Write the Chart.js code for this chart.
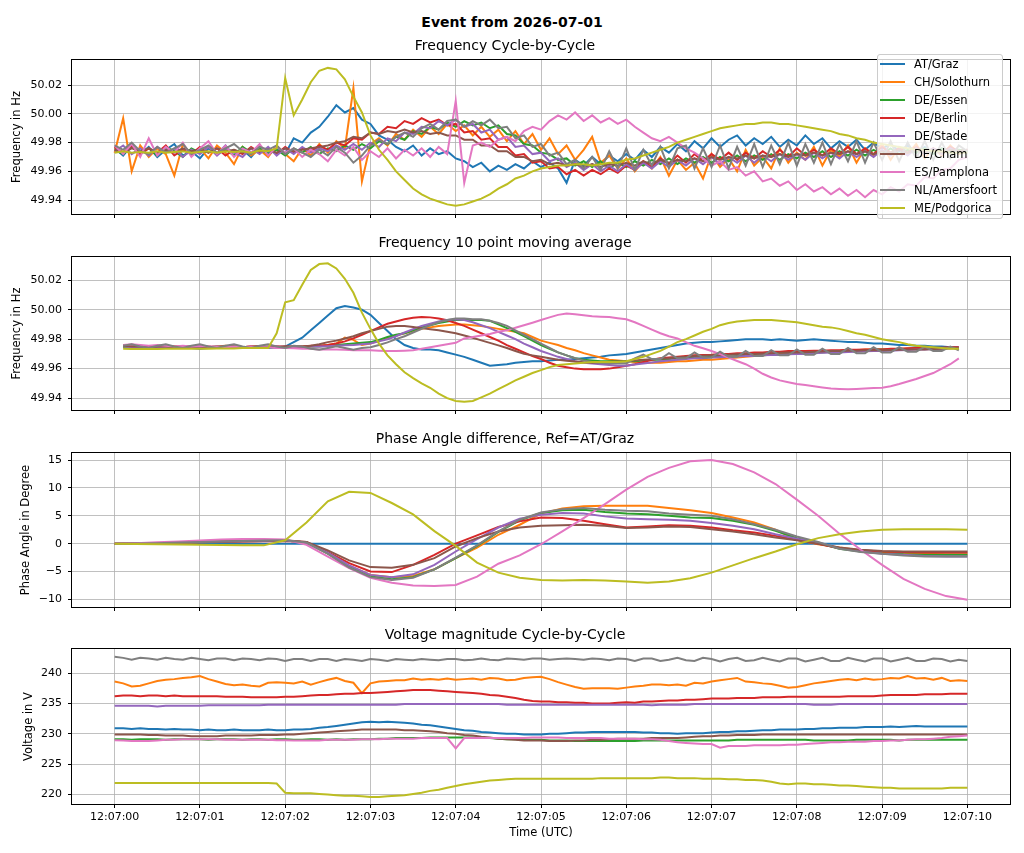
<!DOCTYPE html>
<html>
<head>
<meta charset="utf-8">
<title>Event from 2026-07-01</title>
<script src="https://cdn.jsdelivr.net/npm/chart.js@4.4.1/dist/chart.umd.min.js"></script>
<style>
body{margin:0;background:#fff;width:1024px;height:853px;position:relative;overflow:hidden;font-family:"DejaVu Sans",sans-serif;color:#000;}
canvas{position:absolute;left:0;}
#suptitle{position:absolute;left:0;top:13px;width:1024px;text-align:center;font-weight:bold;font-size:14px;line-height:18px;}
#legend{position:absolute;left:877px;top:54px;width:126px;height:165px;box-sizing:border-box;background:rgba(255,255,255,0.8);border:1px solid #ccc;border-radius:3px;z-index:5;}
.item{height:18px;display:flex;align-items:center;font-size:11.5px;white-space:nowrap;}
.swatch{width:25px;height:0;border-top:2px solid;margin:0 9px 0 2px;}
</style>
</head>
<body>
<div id="suptitle">Event from 2026-07-01</div>
<canvas id="freqCycle" width="1024" height="182" style="top:38px"></canvas>
<canvas id="freqAvg" width="1024" height="181" style="top:235px"></canvas>
<canvas id="phase" width="1024" height="182" style="top:431px"></canvas>
<canvas id="voltage" width="1024" height="226" style="top:627px"></canvas>
<div id="legend"></div>
<script>
const stations = ['AT/Graz','CH/Solothurn','DE/Essen','DE/Berlin','DE/Stade','DE/Cham','ES/Pamplona','NL/Amersfoort','ME/Podgorica'];
const colors = ['#1f77b4','#ff7f0e','#2ca02c','#d62728','#9467bd','#8c564b','#e377c2','#7f7f7f','#bcbd22'];

const timeTicks = [0,1,2,3,4,5,6,7,8,9,10];
const timeLabels = ['12:07:00','12:07:01','12:07:02','12:07:03','12:07:04','12:07:05','12:07:06','12:07:07','12:07:08','12:07:09','12:07:10'];
const freqTicks = [49.94,49.96,49.98,50.00,50.02];
const phaseTicks = [-10,-5,0,5,10,15];
const voltTicks = [220,225,230,235,240];

// seconds after 12:07:00
const cycleTimes = [0,0.1,0.2,0.3,0.4,0.5,0.6,0.7,0.8,0.9,1,1.1,1.2,1.3,1.4,1.5,1.6,1.7,1.8,1.9,2,2.1,2.2,2.3,2.4,2.5,2.6,2.7,2.8,2.9,3,3.1,3.2,3.3,3.4,3.5,3.6,3.7,3.8,3.9,4,4.1,4.2,4.3,4.4,4.5,4.6,4.7,4.8,4.9,5,5.1,5.2,5.3,5.4,5.5,5.6,5.7,5.8,5.9,6,6.1,6.2,6.3,6.4,6.5,6.6,6.7,6.8,6.9,7,7.1,7.2,7.3,7.4,7.5,7.6,7.7,7.8,7.9,8,8.1,8.2,8.3,8.4,8.5,8.6,8.7,8.8,8.9,9,9.1,9.2,9.3,9.4,9.5,9.6,9.7,9.8,9.9,10];
const avgTimes = [0.1,0.2,0.3,0.4,0.5,0.6,0.7,0.8,0.9,1,1.1,1.2,1.3,1.4,1.5,1.6,1.7,1.8,1.9,2,2.1,2.2,2.3,2.4,2.5,2.6,2.7,2.8,2.9,3,3.1,3.2,3.3,3.4,3.5,3.6,3.7,3.8,3.9,4,4.1,4.2,4.3,4.4,4.5,4.6,4.7,4.8,4.9,5,5.1,5.2,5.3,5.4,5.5,5.6,5.7,5.8,5.9,6,6.1,6.2,6.3,6.4,6.5,6.6,6.7,6.8,6.9,7,7.1,7.2,7.3,7.4,7.5,7.6,7.7,7.8,7.9,8,8.1,8.2,8.3,8.4,8.5,8.6,8.7,8.8,8.9,9,9.1,9.2,9.3,9.4,9.5,9.6,9.7,9.8,9.9];
const phaseTimes = [0,0.25,0.5,0.75,1,1.25,1.5,1.75,2,2.25,2.5,2.75,3,3.25,3.5,3.75,4,4.25,4.5,4.75,5,5.25,5.5,5.75,6,6.25,6.5,6.75,7,7.25,7.5,7.75,8,8.25,8.5,8.75,9,9.25,9.5,9.75,10];

// Frequency cycle-by-cycle (Hz)
const freqCycGraz = [49.976,49.971,49.978,49.972,49.977,49.970,49.975,49.979,49.971,49.974,
 49.969,49.976,49.972,49.978,49.971,49.975,49.970,49.977,49.973,49.976,
 49.972,49.983,49.980,49.987,49.991,49.998,50.006,50.001,50.004,49.996,
 49.993,49.985,49.982,49.977,49.974,49.978,49.971,49.976,49.972,49.974,
 49.969,49.967,49.963,49.966,49.960,49.964,49.961,49.965,49.962,49.967,
 49.963,49.966,49.962,49.952,49.968,49.964,49.970,49.965,49.971,49.967,
 49.972,49.968,49.975,49.970,49.977,49.973,49.979,49.974,49.981,49.976,
 49.983,49.977,49.982,49.985,49.978,49.983,49.979,49.984,49.977,49.982,
 49.978,49.985,49.979,49.983,49.976,49.981,49.977,49.982,49.975,49.980,
 49.976,49.979,49.974,49.978,49.973,49.977,49.972,49.976,49.973,49.975,49.974];
const freqCycSolothurn = [49.973,49.997,49.960,49.978,49.970,49.976,49.972,49.957,49.979,49.971,
 49.976,49.969,49.978,49.973,49.965,49.977,49.971,49.975,49.970,49.978,
 49.972,49.967,49.976,49.971,49.979,49.973,49.981,49.976,50.018,49.953,
 49.979,49.983,49.978,49.986,49.982,49.989,49.984,49.991,49.986,49.993,
 49.988,49.992,49.985,49.991,49.984,49.989,49.981,49.988,49.979,49.986,
 49.975,49.983,49.972,49.978,49.968,49.975,49.984,49.966,49.971,49.962,
 49.969,49.960,49.967,49.962,49.970,49.957,49.968,49.961,49.966,49.955,
 49.972,49.963,49.969,49.960,49.975,49.964,49.970,49.962,49.976,49.966,
 49.973,49.968,49.977,49.964,49.975,49.970,49.978,49.966,49.976,49.971,
 49.979,49.968,49.977,49.972,49.979,49.969,49.976,49.971,49.978,49.972,49.975];
const freqCycEssen = [49.975,49.972,49.977,49.973,49.976,49.971,49.977,49.974,49.970,49.976,
 49.973,49.977,49.972,49.975,49.971,49.977,49.973,49.976,49.972,49.975,
 49.971,49.976,49.973,49.977,49.972,49.976,49.974,49.978,49.975,49.979,
 49.976,49.981,49.979,49.984,49.982,49.988,49.986,49.991,49.989,49.994,
 49.991,49.995,49.992,49.994,49.990,49.992,49.986,49.985,49.979,49.978,
 49.973,49.972,49.968,49.969,49.964,49.967,49.963,49.967,49.962,49.966,
 49.963,49.967,49.964,49.968,49.965,49.969,49.965,49.969,49.966,49.970,
 49.966,49.970,49.967,49.971,49.967,49.971,49.968,49.972,49.968,49.972,
 49.969,49.973,49.970,49.974,49.970,49.974,49.971,49.975,49.971,49.975,
 49.972,49.976,49.972,49.975,49.973,49.976,49.972,49.976,49.973,49.975,49.974];
const freqCycBerlin = [49.977,49.973,49.978,49.972,49.976,49.973,49.978,49.971,49.975,49.972,
 49.977,49.973,49.976,49.971,49.975,49.972,49.977,49.973,49.976,49.972,
 49.977,49.973,49.976,49.974,49.978,49.975,49.980,49.978,49.983,49.982,
 49.987,49.986,49.991,49.990,49.995,49.993,49.997,49.994,49.996,49.992,
 49.993,49.987,49.988,49.982,49.983,49.977,49.977,49.971,49.972,49.966,
 49.967,49.962,49.963,49.958,49.961,49.957,49.961,49.958,49.962,49.959,
 49.964,49.961,49.967,49.963,49.969,49.965,49.971,49.966,49.972,49.967,
 49.972,49.968,49.973,49.968,49.973,49.969,49.974,49.970,49.975,49.970,
 49.976,49.971,49.975,49.971,49.976,49.972,49.977,49.972,49.976,49.972,
 49.977,49.973,49.976,49.973,49.977,49.973,49.976,49.973,49.977,49.974,49.975];
const freqCycStade = [49.974,49.978,49.972,49.976,49.971,49.977,49.973,49.976,49.970,49.975,
 49.972,49.977,49.971,49.976,49.973,49.970,49.976,49.972,49.977,49.971,
 49.976,49.972,49.977,49.973,49.976,49.974,49.978,49.975,49.979,49.975,
 49.980,49.977,49.983,49.981,49.987,49.986,49.991,49.990,49.995,49.992,
 49.996,49.991,49.993,49.987,49.989,49.982,49.984,49.977,49.978,49.972,
 49.973,49.967,49.969,49.963,49.966,49.961,49.965,49.960,49.964,49.960,
 49.965,49.961,49.966,49.962,49.967,49.963,49.968,49.964,49.969,49.965,
 49.970,49.965,49.970,49.966,49.971,49.966,49.971,49.967,49.972,49.968,
 49.972,49.968,49.973,49.969,49.973,49.969,49.974,49.970,49.974,49.970,
 49.975,49.971,49.975,49.971,49.976,49.972,49.976,49.972,49.976,49.973,49.975];
const freqCycCham = [49.975,49.973,49.976,49.974,49.976,49.973,49.975,49.973,49.976,49.974,
 49.975,49.973,49.976,49.974,49.975,49.973,49.976,49.974,49.975,49.973,
 49.976,49.974,49.975,49.976,49.977,49.978,49.980,49.981,49.984,49.983,
 49.987,49.986,49.988,49.987,49.989,49.987,49.988,49.986,49.987,49.985,
 49.985,49.982,49.982,49.978,49.978,49.974,49.974,49.970,49.970,49.967,
 49.968,49.965,49.966,49.964,49.965,49.963,49.965,49.963,49.965,49.964,
 49.966,49.964,49.967,49.965,49.968,49.966,49.968,49.967,49.969,49.967,
 49.970,49.968,49.970,49.969,49.971,49.969,49.971,49.970,49.972,49.970,
 49.972,49.971,49.973,49.971,49.973,49.972,49.974,49.972,49.974,49.972,
 49.974,49.973,49.975,49.973,49.975,49.973,49.975,49.973,49.975,49.974,49.975];
const freqCycPamplona = [49.978,49.972,49.979,49.970,49.983,49.971,49.977,49.973,49.980,49.970,
 49.976,49.981,49.972,49.978,49.970,49.976,49.973,49.979,49.971,49.977,
 49.973,49.976,49.970,49.975,49.972,49.967,49.975,49.971,49.977,49.968,
 49.974,49.970,49.976,49.969,49.975,49.971,49.976,49.970,49.977,49.972,
 50.009,49.952,49.978,49.980,49.977,49.982,49.984,49.981,49.988,49.991,
 49.989,49.995,49.999,49.996,50.001,49.995,49.999,49.994,49.997,49.993,
 49.996,49.991,49.987,49.983,49.981,49.984,49.980,49.976,49.973,49.969,
 49.964,49.967,49.961,49.963,49.957,49.960,49.953,49.955,49.950,49.953,
 49.947,49.951,49.946,49.949,49.944,49.948,49.943,49.947,49.942,49.947,
 49.944,49.949,49.946,49.951,49.950,49.956,49.955,49.961,49.962,49.968,49.970];
const freqCycAmersfoort = [49.978,49.975,49.980,49.974,49.972,49.977,49.973,49.976,49.979,49.972,
 49.975,49.978,49.973,49.976,49.979,49.974,49.972,49.977,49.975,49.978,
 49.972,49.976,49.973,49.970,49.975,49.971,49.977,49.973,49.966,49.971,
 49.978,49.982,49.979,49.984,49.987,49.984,49.990,49.993,49.989,49.995,
 49.996,49.991,49.995,49.992,49.996,49.990,49.991,49.983,49.985,49.977,
 49.979,49.971,49.973,49.965,49.968,49.962,49.970,49.961,49.974,49.962,
 49.976,49.961,49.975,49.964,49.977,49.962,49.976,49.978,49.962,49.976,
 49.963,49.978,49.962,49.977,49.964,49.979,49.963,49.978,49.965,49.980,
 49.964,49.979,49.966,49.980,49.965,49.979,49.967,49.981,49.966,49.980,
 49.968,49.981,49.967,49.980,49.969,49.981,49.968,49.980,49.969,49.978,49.974];
const freqCycPodgorica = [49.973,49.974,49.973,49.9735,49.973,49.974,49.973,49.9735,49.974,49.973,
 49.9735,49.974,49.973,49.974,49.9735,49.974,49.973,49.9745,49.974,49.976,
 50.025,49.999,50.010,50.022,50.030,50.032,50.031,50.024,50.012,50.001,
 49.985,49.975,49.968,49.960,49.954,49.948,49.944,49.941,49.939,49.937,
 49.936,49.937,49.939,49.941,49.944,49.948,49.951,49.955,49.957,49.960,
 49.962,49.963,49.964,49.964,49.965,49.965,49.964,49.965,49.966,49.966,
 49.968,49.969,49.971,49.973,49.975,49.977,49.980,49.982,49.984,49.986,
 49.988,49.990,49.991,49.992,49.993,49.993,49.994,49.994,49.993,49.993,
 49.992,49.991,49.990,49.989,49.988,49.986,49.985,49.983,49.982,49.980,
 49.979,49.978,49.977,49.976,49.975,49.975,49.974,49.974,49.973,49.973,49.973];

// Frequency 10 point moving average (Hz)
const avgGraz = [49.975,49.975,49.975,49.9745,49.974,49.974,49.9745,49.9745,49.974,
 49.9735,49.974,49.9745,49.9745,49.974,49.9745,49.9745,49.974,49.974,49.9745,
 49.975,49.978,49.981,49.986,49.991,49.996,50.001,50.0025,50.0015,50.000,
 49.9965,49.991,49.9855,49.980,49.976,49.974,49.973,49.973,49.9725,49.971,
 49.9695,49.968,49.966,49.964,49.962,49.9625,49.963,49.964,49.9645,49.965,
 49.965,49.9655,49.966,49.966,49.9665,49.967,49.9675,49.968,49.969,49.9695,
 49.970,49.971,49.972,49.973,49.974,49.975,49.976,49.977,49.9775,49.978,
 49.978,49.9785,49.979,49.9795,49.980,49.980,49.980,49.9795,49.980,49.9795,
 49.979,49.9795,49.980,49.9795,49.979,49.9785,49.978,49.978,49.9775,49.977,
 49.977,49.9765,49.976,49.976,49.9755,49.9755,49.975,49.975,49.9745,49.9745];
const avgSolothurn = [49.975,49.9755,49.975,49.9745,49.975,49.9755,49.975,49.9745,49.975,
 49.975,49.9745,49.975,49.9755,49.975,49.9745,49.975,49.975,49.9745,49.975,
 49.9745,49.9745,49.975,49.975,49.9755,49.976,49.977,49.981,49.9795,49.976,
 49.977,49.979,49.981,49.9825,49.984,49.9855,49.987,49.988,49.989,49.9895,
 49.990,49.990,49.9895,49.989,49.988,49.987,49.986,49.985,49.984,49.9815,
 49.979,49.9775,49.976,49.974,49.9725,49.9705,49.969,49.9675,49.966,49.9655,
 49.965,49.9645,49.964,49.964,49.964,49.9645,49.965,49.965,49.9655,49.966,
 49.966,49.9665,49.967,49.9675,49.968,49.9685,49.969,49.9695,49.970,49.9705,
 49.971,49.971,49.9715,49.9715,49.972,49.972,49.9725,49.9725,49.973,49.973,
 49.973,49.973,49.9735,49.9735,49.974,49.974,49.974,49.974,49.974,49.974];
const avgEssen = [49.9745,49.975,49.9745,49.9745,49.975,49.9745,49.974,49.9745,49.975,
 49.9745,49.9745,49.975,49.9745,49.974,49.9745,49.9745,49.975,49.9745,49.9745,
 49.9745,49.9745,49.9745,49.975,49.975,49.9755,49.976,49.9765,49.977,49.9775,
 49.978,49.9795,49.9815,49.983,49.984,49.986,49.988,49.9895,49.991,49.992,
 49.993,49.993,49.993,49.993,49.9925,49.990,49.9875,49.985,49.982,49.979,
 49.976,49.9735,49.971,49.969,49.967,49.966,49.9655,49.965,49.965,49.965,
 49.965,49.965,49.9655,49.966,49.966,49.9665,49.967,49.967,49.9675,49.9675,
 49.968,49.968,49.968,49.9685,49.9685,49.969,49.969,49.9695,49.9695,49.970,
 49.970,49.9705,49.971,49.971,49.9715,49.972,49.972,49.9725,49.9725,49.973,
 49.973,49.973,49.973,49.9735,49.9735,49.9735,49.974,49.974,49.974,49.974];
const avgBerlin = [49.976,49.9755,49.9755,49.975,49.975,49.9755,49.975,49.975,49.9745,
 49.975,49.975,49.9745,49.975,49.975,49.9745,49.975,49.975,49.9745,49.975,
 49.975,49.975,49.975,49.9755,49.9755,49.976,49.977,49.9785,49.9805,49.983,
 49.9855,49.988,49.9905,49.992,49.9935,49.9945,49.995,49.9948,49.994,49.9928,
 49.991,49.989,49.9865,49.984,49.9815,49.979,49.976,49.9735,49.971,49.9685,
 49.9665,49.964,49.962,49.961,49.960,49.9595,49.9595,49.9595,49.960,49.961,
 49.962,49.963,49.9645,49.966,49.967,49.9675,49.968,49.9685,49.969,49.9693,
 49.9695,49.970,49.970,49.9705,49.9705,49.971,49.971,49.9715,49.9715,49.972,
 49.972,49.972,49.9722,49.9722,49.9725,49.9725,49.9728,49.9728,49.973,49.973,
 49.973,49.9735,49.9735,49.9738,49.974,49.974,49.974,49.9742,49.9745,49.9745];
const avgStade = [49.975,49.9745,49.9745,49.975,49.9745,49.974,49.9745,49.9745,49.975,
 49.9745,49.974,49.9745,49.975,49.9745,49.9745,49.974,49.9745,49.9745,49.975,
 49.9745,49.9745,49.9745,49.975,49.975,49.9752,49.9755,49.9758,49.976,49.9765,
 49.977,49.9785,49.980,49.982,49.9845,49.9868,49.989,49.9905,49.992,49.993,
 49.9935,49.993,49.9915,49.9895,49.9875,49.985,49.9825,49.980,49.977,49.9745,
 49.972,49.970,49.968,49.9665,49.965,49.964,49.9635,49.963,49.9625,49.962,
 49.962,49.9628,49.9635,49.9642,49.965,49.9655,49.966,49.9665,49.967,49.967,
 49.9675,49.9677,49.968,49.9682,49.9685,49.9685,49.969,49.9692,49.9695,49.9698,
 49.970,49.970,49.9705,49.9707,49.971,49.971,49.9713,49.9715,49.9718,49.972,
 49.972,49.9722,49.9725,49.9727,49.973,49.973,49.9733,49.9735,49.9738,49.974];
const avgCham = [49.9755,49.975,49.975,49.9745,49.975,49.975,49.9745,49.975,49.975,
 49.975,49.9745,49.975,49.975,49.975,49.9745,49.975,49.975,49.975,49.9745,
 49.975,49.975,49.975,49.9755,49.9765,49.978,49.979,49.9805,49.982,49.984,
 49.9855,49.987,49.9885,49.989,49.989,49.9882,49.9875,49.9868,49.986,49.985,
 49.984,49.9825,49.981,49.9792,49.9775,49.9758,49.974,49.972,49.970,49.969,
 49.968,49.967,49.966,49.9653,49.9648,49.9643,49.964,49.9642,49.9645,49.9648,
 49.965,49.9655,49.966,49.9663,49.9667,49.967,49.9675,49.968,49.9685,49.9688,
 49.969,49.9692,49.9695,49.9697,49.970,49.970,49.9703,49.9705,49.9708,49.971,
 49.971,49.9712,49.9715,49.9717,49.972,49.972,49.9722,49.9722,49.9725,49.9725,
 49.9725,49.9727,49.9728,49.973,49.973,49.973,49.9733,49.9735,49.9738,49.974];
const avgPamplona = [49.976,49.9765,49.976,49.9755,49.976,49.9755,49.975,49.9755,49.975,
 49.9755,49.975,49.975,49.9745,49.975,49.9745,49.975,49.9745,49.9745,49.974,
 49.974,49.9738,49.9735,49.9735,49.973,49.973,49.973,49.9728,49.9725,49.9725,
 49.9725,49.9722,49.972,49.972,49.9722,49.9725,49.9735,49.9745,49.9755,49.9765,
 49.9775,49.9805,49.9815,49.9825,49.9835,49.985,49.986,49.9878,49.9895,49.9912,
 49.993,49.9948,49.9965,49.9975,49.997,49.9962,49.9955,49.9952,49.995,49.9942,
 49.9935,49.9915,49.989,49.9865,49.984,49.982,49.9805,49.978,49.9755,49.9738,
 49.972,49.9698,49.9675,49.9652,49.963,49.960,49.9565,49.954,49.952,49.9508,
 49.9495,49.9488,49.948,49.9472,49.9465,49.9462,49.946,49.9462,49.9465,49.9468,
 49.947,49.948,49.9495,49.9512,49.953,49.955,49.957,49.960,49.963,49.967];
const avgAmersfoort = [49.9755,49.9765,49.975,49.974,49.9755,49.9765,49.975,49.974,49.9755,
 49.9765,49.975,49.974,49.9755,49.9765,49.975,49.974,49.9755,49.9765,49.975,
 49.974,49.9755,49.975,49.9735,49.9728,49.974,49.9752,49.974,49.9728,49.974,
 49.9745,49.976,49.9778,49.980,49.982,49.9845,49.987,49.9895,49.9915,49.993,
 49.994,49.994,49.9935,49.9935,49.9925,49.991,49.989,49.986,49.983,49.980,
 49.977,49.974,49.971,49.969,49.967,49.9655,49.9645,49.9638,49.9635,49.9635,
 49.9635,49.967,49.9695,49.9665,49.9665,49.9705,49.967,49.967,49.971,49.9675,
 49.9675,49.9715,49.968,49.968,49.972,49.9685,49.9685,49.9725,49.969,49.969,
 49.973,49.9695,49.9695,49.9735,49.970,49.970,49.974,49.9705,49.9705,49.9745,
 49.971,49.971,49.9745,49.9715,49.9715,49.975,49.972,49.972,49.975,49.9725];
const avgPodgorica = [49.9735,49.9733,49.9733,49.9733,49.9733,49.9735,49.9735,49.9735,49.9735,
 49.9735,49.9735,49.9737,49.9737,49.9737,49.974,49.974,49.974,49.974,49.984,
 50.005,50.0065,50.017,50.027,50.031,50.0315,50.028,50.021,50.0115,49.998,
 49.987,49.977,49.969,49.963,49.9575,49.9535,49.950,49.947,49.943,49.940,
 49.938,49.9375,49.938,49.9405,49.943,49.946,49.949,49.952,49.9545,49.957,
 49.959,49.961,49.9625,49.963,49.9635,49.964,49.9645,49.9645,49.9645,49.9645,
 49.965,49.9665,49.968,49.970,49.972,49.975,49.978,49.980,49.9825,49.985,
 49.987,49.9895,49.991,49.992,49.9925,49.993,49.993,49.993,49.9925,49.992,
 49.9915,49.9905,49.9895,49.9885,49.988,49.987,49.9855,49.984,49.983,49.9815,
 49.980,49.979,49.978,49.9765,49.9755,49.975,49.9745,49.974,49.9735,49.9735];

// Phase angle difference, ref AT/Graz (degree)
const phaseGraz = [0,0,0,0,0,0,0,0, 0,0,0,0,0,0,0,0, 0,0,0,0,0,0,0,0, 0,0,0,0,0,0,0,0, 0,0,0,0,0,0,0,0, 0];
const phaseSolothurn = [0,0.05,0.1,0.2,0.3,0.35,0.45,0.5, 0.55,0.2,-1.7,-4.0,-5.6,-6.0,-5.8,-4.6,
 -2.6,-0.7,1.6,3.4,5.4,6.3,6.7,6.8, 6.8,6.8,6.4,6.0,5.5,4.7,3.8,2.5, 0.7,-0.1,-0.7,-1.2,-1.5,-1.7,-1.8,-1.9, -1.9];
const phaseEssen = [0,0.05,0.1,0.2,0.3,0.35,0.45,0.5, 0.55,0.2,-1.8,-4.2,-5.9,-6.4,-6.0,-4.6,
 -2.6,-0.4,2.1,4.2,5.5,6.0,6.1,5.7, 5.4,5.3,5.0,4.7,4.6,4.1,3.4,2.3, 1.0,0.1,-0.9,-1.4,-1.7,-1.9,-2.0,-2.0, -2.0];
const phaseBerlin = [0,0.05,0.1,0.2,0.25,0.35,0.4,0.45, 0.5,0.3,-1.5,-3.5,-5.0,-5.1,-3.8,-2.0,
 0.0,1.5,3.0,4.0,4.7,4.6,4.1,3.5, 2.9,3.1,3.3,3.2,2.9,2.4,2.0,1.4, 0.7,0.0,-0.8,-1.2,-1.4,-1.5,-1.6,-1.6, -1.6];
const phaseStade = [0,0.05,0.1,0.2,0.3,0.4,0.45,0.5, 0.55,0.2,-1.6,-3.9,-5.6,-6.0,-5.5,-3.8,
 -1.4,0.8,2.9,4.5,5.2,5.5,5.4,4.9, 4.5,4.4,4.3,4.1,3.7,3.2,2.6,1.7, 0.9,0.2,-0.8,-1.4,-1.8,-2.0,-2.2,-2.3, -2.3];
const phaseCham = [0,0.05,0.1,0.2,0.3,0.4,0.5,0.55, 0.6,0.3,-1.2,-3.0,-4.2,-4.3,-3.8,-2.6,
 -0.5,1.0,2.2,2.9,3.2,3.3,3.4,3.2, 2.8,2.9,3.1,3.0,2.6,2.2,1.7,1.1, 0.6,0.0,-0.7,-1.1,-1.3,-1.4,-1.4,-1.4, -1.4];
const phasePamplona = [0,0.1,0.25,0.4,0.55,0.75,0.85,0.85, 0.75,-0.2,-2.3,-4.4,-6.1,-7.0,-7.5,-7.6,
 -7.4,-5.9,-3.6,-2.1,-0.1,2.2,4.6,7.1, 9.7,12.0,13.6,14.8,15.0,14.3,12.8,10.7, 7.9,5.0,1.8,-1.1,-3.8,-6.3,-8.1,-9.4, -10.05];
const phaseAmersfoort = [0,0.05,0.1,0.2,0.3,0.4,0.5,0.55, 0.6,0.2,-1.8,-4.3,-6.0,-6.5,-6.1,-4.6,
 -2.5,-0.3,2.2,4.3,5.6,6.2,6.4,6.1, 5.9,5.8,5.4,5.2,5.0,4.4,3.5,2.5, 1.3,0.3,-0.9,-1.5,-1.8,-2.1,-2.3,-2.3, -2.3];
const phasePodgorica = [0,-0.05,-0.1,-0.15,-0.2,-0.25,-0.3,-0.3, 0.6,3.8,7.6,9.3,9.1,7.3,5.25,2.25,
 -0.4,-3.4,-5.2,-6.1,-6.5,-6.6,-6.5,-6.6, -6.8,-7.0,-6.8,-6.2,-5.2,-3.9,-2.6,-1.4, -0.1,1.0,1.7,2.2,2.5,2.6,2.6,2.6, 2.5];

// Voltage magnitude cycle-by-cycle (V)
const voltGraz = [230.9,230.9,230.8,230.9,230.8,230.8,230.7,230.8,230.7,230.7,
 230.6,230.7,230.6,230.6,230.7,230.6,230.6,230.6,230.7,230.6,
 230.6,230.7,230.7,230.8,231.0,231.1,231.3,231.5,231.7,231.9,
 232.0,231.9,232.0,231.9,231.8,231.7,231.5,231.4,231.2,231.0,
 230.8,230.6,230.5,230.3,230.2,230.1,230.0,230.0,229.9,229.9,
 229.9,230.0,230.0,230.1,230.2,230.2,230.3,230.3,230.3,230.3,
 230.3,230.3,230.2,230.2,230.1,230.1,230.0,230.1,230.1,230.1,
 230.2,230.3,230.3,230.4,230.4,230.5,230.6,230.6,230.7,230.7,
 230.7,230.8,230.8,230.9,230.9,231.0,231.0,231.0,231.1,231.1,
 231.1,231.2,231.1,231.2,231.3,231.2,231.2,231.2,231.2,231.2,231.2];
const voltSolothurn = [238.6,238.3,237.8,237.9,238.3,238.7,238.9,239.0,239.2,239.3,
 239.5,239.0,238.6,238.2,238.0,238.1,237.9,237.8,238.4,238.5,
 238.4,238.3,238.6,238.1,238.5,238.9,239.2,238.7,238.4,236.7,
 238.3,238.6,238.7,238.8,238.8,239.1,238.9,239.0,238.9,239.1,
 238.9,239.0,239.1,238.9,239.2,239.1,238.8,238.9,239.2,239.3,
 239.4,239.0,238.5,238.1,237.7,237.4,237.5,237.5,237.5,237.4,
 237.6,237.8,237.9,238.1,238.1,238.0,238.1,237.9,238.4,238.3,
 238.6,238.8,239.0,239.2,238.6,238.5,238.3,238.2,237.9,237.6,
 237.7,238.0,238.3,238.5,238.7,238.9,239.0,238.8,239.1,238.9,
 239.0,239.2,239.1,239.5,239.1,239.2,238.9,239.2,238.7,238.8,238.7];
const voltEssen = [229.1,229.1,229.0,229.1,229.1,229.1,229.0,229.1,229.1,229.1,
 229.1,229.0,229.1,229.1,229.1,229.0,229.1,229.1,229.0,229.1,
 229.1,229.0,229.0,229.1,229.1,229.0,229.1,229.0,229.1,229.1,
 229.1,229.2,229.2,229.3,229.3,229.3,229.3,229.4,229.4,229.4,
 229.4,229.4,229.4,229.3,229.3,229.2,229.1,229.1,229.0,229.0,
 229.0,228.9,228.9,228.9,228.8,228.8,228.8,228.8,228.8,228.8,
 228.8,228.8,228.9,228.9,228.9,228.9,228.9,228.9,228.9,228.9,
 228.9,228.9,228.9,229.0,229.0,229.0,229.0,229.0,229.0,229.0,
 229.0,229.0,228.9,228.9,228.9,228.9,228.9,229.0,229.0,229.0,
 229.0,229.0,228.9,229.0,229.0,229.0,229.0,229.0,229.0,229.0,229.0];
const voltBerlin = [236.2,236.3,236.3,236.2,236.3,236.3,236.2,236.3,236.2,236.2,
 236.2,236.2,236.2,236.1,236.1,236.1,236.0,236.0,236.0,236.0,
 236.1,236.1,236.2,236.3,236.4,236.4,236.5,236.6,236.6,236.7,
 236.7,236.8,236.9,237.0,237.1,237.2,237.2,237.2,237.1,237.0,
 236.9,236.8,236.7,236.6,236.4,236.3,236.1,235.9,235.6,235.4,
 235.3,235.3,235.2,235.2,235.1,235.1,235.0,235.0,235.0,235.1,
 235.2,235.1,235.3,235.3,235.4,235.5,235.5,235.6,235.6,235.7,
 235.8,235.8,235.8,235.9,235.9,235.9,236.0,236.0,236.0,236.1,
 236.1,236.1,236.1,236.1,236.1,236.1,236.2,236.2,236.2,236.2,
 236.3,236.4,236.4,236.4,236.4,236.5,236.5,236.5,236.6,236.6,236.6];
const voltStade = [234.6,234.6,234.6,234.6,234.6,234.5,234.6,234.6,234.6,234.6,
 234.6,234.7,234.7,234.7,234.7,234.7,234.7,234.7,234.8,234.8,
 234.8,234.8,234.8,234.8,234.8,234.8,234.8,234.8,234.8,234.8,
 234.8,234.8,234.8,234.8,234.9,234.9,234.9,234.9,234.9,234.9,
 234.9,234.9,234.9,234.9,234.9,234.9,234.8,234.8,234.8,234.8,
 234.8,234.8,234.8,234.8,234.8,234.8,234.8,234.8,234.8,234.8,
 234.8,234.8,234.8,234.7,234.8,234.8,234.8,234.8,234.9,234.9,
 234.9,234.9,234.9,234.9,234.9,234.9,234.9,234.9,234.9,234.9,
 234.9,234.9,234.8,234.8,234.8,234.9,234.9,234.9,234.9,234.9,
 234.9,234.9,234.9,234.9,234.9,234.9,234.9,234.9,234.9,234.9,234.9];
const voltCham = [229.9,229.9,229.9,229.9,229.8,229.8,229.7,229.7,229.7,229.6,
 229.6,229.6,229.6,229.7,229.7,229.7,229.7,229.8,229.8,229.8,
 229.9,229.9,230.0,230.1,230.2,230.3,230.4,230.5,230.6,230.7,
 230.7,230.7,230.7,230.7,230.6,230.6,230.5,230.4,230.3,230.1,
 230.0,229.8,229.7,229.5,229.4,229.2,229.1,229.0,228.9,228.9,
 228.9,228.8,228.8,228.8,228.9,228.9,229.0,229.0,229.1,229.2,
 229.2,229.2,229.2,229.3,229.3,229.3,229.3,229.4,229.5,229.6,
 229.6,229.7,229.7,229.8,229.8,229.8,229.9,229.9,229.9,229.9,
 229.9,229.9,229.9,229.9,229.9,229.9,229.9,229.9,229.9,229.9,
 229.9,229.9,229.9,229.9,229.9,229.9,229.9,229.9,229.9,229.9,229.9];
const voltPamplona = [228.95,228.9,228.8,228.8,228.8,228.9,229.0,229.0,229.1,229.1,
 229.1,229.1,229.1,229.0,229.0,229.0,229.0,229.0,229.0,228.95,
 228.95,228.9,228.9,228.9,228.9,229.0,229.0,229.0,229.0,229.1,
 229.1,229.1,229.2,229.2,229.2,229.2,229.3,229.3,229.3,229.3,
 227.6,229.3,229.3,229.3,229.3,229.3,229.3,229.3,229.3,229.4,
 229.4,229.4,229.4,229.3,229.3,229.3,229.3,229.3,229.2,229.2,
 229.2,229.2,229.1,229.1,229.0,228.8,228.6,228.5,228.4,228.3,
 228.3,227.7,228.0,228.0,228.0,228.1,228.1,228.1,228.1,228.2,
 228.2,228.3,228.4,228.5,228.6,228.6,228.7,228.7,228.7,228.8,
 228.8,228.9,228.9,229.0,229.1,229.1,229.2,229.3,229.5,229.6,229.7];
const voltAmersfoort = [242.7,242.5,242.2,242.5,242.4,242.2,242.5,242.3,242.2,242.5,
 242.3,242.1,242.4,242.4,242.1,242.4,242.3,242.1,242.4,242.3,
 242.0,242.3,242.3,242.0,242.3,242.3,242.0,242.3,242.2,242.0,
 242.3,242.2,242.0,242.3,242.2,242.1,242.3,242.2,242.1,242.3,
 242.3,242.1,242.2,242.4,242.2,242.1,242.4,242.3,242.2,242.4,
 242.4,242.2,242.3,242.4,242.3,242.2,242.4,242.3,242.1,242.4,
 242.3,242.0,242.4,242.4,242.0,242.2,242.5,242.1,242.0,242.5,
 242.3,241.9,242.3,242.5,242.0,242.1,242.5,242.2,241.9,242.4,
 242.4,241.9,242.2,242.5,242.0,242.0,242.5,242.2,241.9,242.4,
 242.4,241.9,242.2,242.5,242.0,242.0,242.4,242.3,241.9,242.2,242.0];
const voltPodgorica = [221.9,221.9,221.9,221.9,221.9,221.9,221.9,221.9,221.9,221.9,
 221.9,221.9,221.9,221.9,221.9,221.9,221.9,221.9,221.9,221.8,
 220.3,220.2,220.2,220.2,220.1,220.0,219.9,219.8,219.8,219.7,
 219.6,219.6,219.7,219.8,219.9,220.1,220.3,220.6,220.8,221.1,
 221.4,221.7,221.9,222.1,222.3,222.4,222.5,222.6,222.6,222.6,
 222.6,222.6,222.6,222.6,222.6,222.6,222.6,222.7,222.7,222.7,
 222.7,222.7,222.7,222.7,222.8,222.8,222.7,222.7,222.7,222.6,
 222.6,222.6,222.5,222.5,222.4,222.4,222.3,222.1,221.8,221.7,
 221.8,221.8,221.7,221.7,221.6,221.5,221.5,221.4,221.3,221.2,
 221.1,221.1,221.0,221.0,221.0,221.0,221.0,221.0,221.1,221.1,221.1];

Chart.defaults.font.family = '"DejaVu Sans", sans-serif';
Chart.defaults.color = '#000';

// matplotlib draws all four spines on top of the lines
const framePlugin = {
  id: 'frame',
  afterDatasetsDraw(chart){
    const a = chart.chartArea, ctx = chart.ctx;
    ctx.save();
    ctx.strokeStyle = '#000';
    ctx.lineWidth = 1;
    ctx.strokeRect(Math.round(a.left) - 0.5, Math.round(a.top) - 0.5, Math.round(a.right - a.left) + 1, Math.round(a.bottom - a.top) + 1);
    ctx.restore();
  }
};

const minusSign = v => String(v).replace('-', '\u2212');

function makePanel(id, cfg){
  const datasets = cfg.series.map((vals, i) => ({
    label: stations[i],
    data: cfg.times.map((t, k) => ({x: t, y: vals[k]})),
    borderColor: colors[i],
    backgroundColor: colors[i],
    borderWidth: 2,
    pointRadius: 0,
    tension: 0,
    order: -i
  }));
  const gridOpts = {color: '#b0b0b0', lineWidth: 0.8, tickLength: 4, tickColor: '#000', tickWidth: 1};
  return new Chart(document.getElementById(id), {
    type: 'line',
    data: {datasets},
    options: {
      responsive: false,
      animation: false,
      devicePixelRatio: 1,
      events: [],
      layout: {padding: {left: 0, right: 14, top: 0, bottom: 0}},
      plugins: {
        legend: {display: false},
        tooltip: {enabled: false},
        title: {display: true, text: cfg.title, color: '#000', font: {size: 14, weight: 'normal'}, padding: {top: 0, bottom: 5.2}}
      },
      scales: {
        x: {
          type: 'linear', min: -0.5, max: 10.5,
          afterBuildTicks: s => { s.ticks = timeTicks.map(v => ({value: v})); },
          afterFit: s => { s.height = cfg.showTime ? 49 : 6; s.paddingLeft = 0; s.paddingRight = 0; },
          ticks: {display: cfg.showTime, autoSkip: false, maxRotation: 0, padding: 3, color: '#000', font: {size: 11},
                  callback: (v, i) => timeLabels[i]},
          grid: gridOpts,
          border: {display: false},
          title: {display: cfg.showTime, text: 'Time (UTC)', color: '#000', font: {size: 11.5}, padding: {top: 0, bottom: 13}}
        },
        y: {
          min: cfg.yMin, max: cfg.yMax,
          afterBuildTicks: s => { s.ticks = cfg.yTicks.map(v => ({value: v})); },
          afterFit: s => { s.width = 72; s.paddingTop = 0; s.paddingBottom = 0; },
          ticks: {padding: 6, color: '#000', font: {size: 11}, callback: cfg.fmt},
          grid: gridOpts,
          border: {display: false},
          title: {display: true, text: cfg.yTitle, color: '#000', font: {size: 11.5}, padding: {top: cfg.yTitlePad, bottom: 0}}
        }
      }
    },
    plugins: [framePlugin]
  });
}

makePanel('freqCycle', {
  title: 'Frequency Cycle-by-Cycle', yTitle: 'Frequency in Hz', yTitlePad: 10,
  times: cycleTimes, yMin: 49.9303, yMax: 50.0375, yTicks: freqTicks, fmt: v => v.toFixed(2),
  series: [freqCycGraz, freqCycSolothurn, freqCycEssen, freqCycBerlin, freqCycStade, freqCycCham, freqCycPamplona, freqCycAmersfoort, freqCycPodgorica]
});
makePanel('freqAvg', {
  title: 'Frequency 10 point moving average', yTitle: 'Frequency in Hz', yTitlePad: 10,
  times: avgTimes, yMin: 49.9319, yMax: 50.0358, yTicks: freqTicks, fmt: v => v.toFixed(2),
  series: [avgGraz, avgSolothurn, avgEssen, avgBerlin, avgStade, avgCham, avgPamplona, avgAmersfoort, avgPodgorica]
});
makePanel('phase', {
  title: 'Phase Angle difference, Ref=AT/Graz', yTitle: 'Phase Angle in Degree', yTitlePad: 19,
  times: phaseTimes, yMin: -11.36, yMax: 16.27, yTicks: phaseTicks, fmt: minusSign,
  series: [phaseGraz, phaseSolothurn, phaseEssen, phaseBerlin, phaseStade, phaseCham, phasePamplona, phaseAmersfoort, phasePodgorica]
});
makePanel('voltage', {
  title: 'Voltage magnitude Cycle-by-Cycle', yTitle: 'Voltage in V', yTitlePad: 22, showTime: true,
  times: cycleTimes, yMin: 218.44, yMax: 243.96, yTicks: voltTicks, fmt: v => String(v),
  series: [voltGraz, voltSolothurn, voltEssen, voltBerlin, voltStade, voltCham, voltPamplona, voltAmersfoort, voltPodgorica]
});

// legend box like matplotlib's, over the top panel
document.getElementById('legend').innerHTML = stations.map((name, i) =>
  `<div class="item"><span class="swatch" style="border-color:${colors[i]}"></span>${name}</div>`).join('');
</script>
</body>
</html>
